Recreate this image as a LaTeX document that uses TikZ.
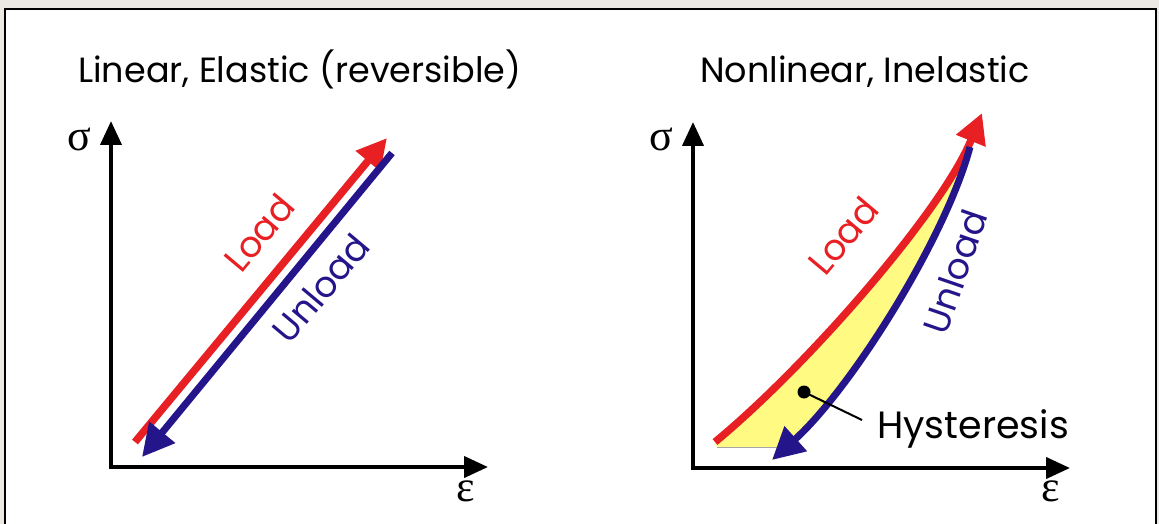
\documentclass[tikz,border=0pt]{standalone}
\usepackage{fontspec}
\setmainfont{Poppins}
\newfontfamily\greekfont{Liberation Serif}
\usetikzlibrary{arrows.meta}
\definecolor{bg}{RGB}{236,233,229}
\definecolor{loadred}{RGB}{232,32,36}
\definecolor{unloadblue}{RGB}{36,22,138}
\definecolor{hyst}{RGB}{255,250,130}
\begin{document}
\begin{tikzpicture}[x=1pt,y=-1pt,
  axis/.style={line width=4pt,{Triangle[length=24pt,width=21pt]}-{Triangle[length=24pt,width=21pt]}},
  loadline/.style={line width=7.5pt,loadred,-{Triangle[length=30pt,width=30pt]}},
  unloadline/.style={line width=7pt,unloadblue,-{Triangle[length=32pt,width=32pt]}},
  title/.style={font=\fontsize{35}{35}\selectfont,inner sep=0pt,anchor=base west},
  hlbl/.style={font=\fontsize{38}{38}\selectfont,inner sep=0pt,anchor=base west},
  curvelbl/.style={font=\fontsize{36}{36}\selectfont,inner sep=0pt},
  greek/.style={font=\greekfont\fontsize{44}{44}\selectfont,inner sep=0pt}
]
\useasboundingbox (0,0) rectangle (1159,524);
\fill[bg] (0,0) rectangle (1159,524);
\draw[line width=2pt,fill=white] (5,9) rectangle (1156,545);

% ---------- left panel ----------
\coordinate (LyTip) at (111,121);
\coordinate (LO) at (111,467);
\coordinate (LxTip) at (488,467);
\draw[axis] (LyTip) -- (LO) -- (LxTip);
\node[greek] (Lsig) at (79,139) {σ};
\node[greek] (Leps) at (466,491) {ε};
\node[title] (Ltitle) at (78,83) {Linear, Elastic (reversible)};

\coordinate (LLs) at (135,442);
\coordinate (LLe) at (387,138);
\coordinate (LUs) at (392,153);
\coordinate (LUe) at (142,457);
\draw[loadline] (LLs) -- (LLe);
\draw[unloadline] (LUs) -- (LUe);
\node[curvelbl,text=loadred,rotate=50] (Lload) at (259,233) {Load};
\node[curvelbl,text=unloadblue,rotate=50] (Lunload) at (321,288) {Unload};

% ---------- right panel ----------
\coordinate (RyTip) at (693,122);
\coordinate (RO) at (693,468);
\coordinate (RxTip) at (1070,468);
\node[greek] (Rsig) at (661,139) {σ};
\node[greek] (Reps) at (1051,491) {ε};
\node[title] (Rtitle) at (700,83) {Nonlinear, Inelastic};

\coordinate (RLs) at (715,442);
\coordinate (RLc1) at (805,368);
\coordinate (RLc2) at (942,212);
\coordinate (RLe) at (982,113);
\coordinate (RUs) at (970,147);
\coordinate (RUc1) at (945,240);
\coordinate (RUc2) at (850,390);
\coordinate (RUe) at (772,460);
\coordinate (Hb1) at (717,447);
\coordinate (Hb2) at (780,447);

\fill[hyst] (Hb1) -- (RLs) .. controls (RLc1) and (RLc2) .. (RLe) -- (RUs)
  .. controls (RUc1) and (RUc2) .. (RUe) -- (Hb2) -- cycle;
\draw[line width=0.6pt,gray!70] (Hb1) -- (Hb2);
\draw[axis] (RyTip) -- (RO) -- (RxTip);
\draw[loadline] (RLs) .. controls (RLc1) and (RLc2) .. (RLe);
\draw[unloadline] (RUs) .. controls (RUc1) and (RUc2) .. (RUe);

\node[curvelbl,text=loadred,rotate=50] (Rload) at (843,236) {Load};
\node[curvelbl,text=unloadblue,rotate=71] (Runload) at (955,272) {Unload};

\fill (804,392) circle (6.5pt) coordinate (Hdot);
\coordinate (Hend) at (862,420);
\draw[line width=2pt] (Hdot) -- (Hend);
\node[hlbl] (Hlbl) at (877,438) {Hysteresis};
\end{tikzpicture}
\end{document}
